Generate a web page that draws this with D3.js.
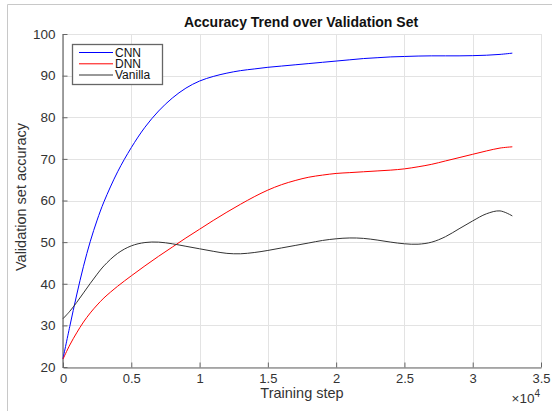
<!DOCTYPE html>
<html><head><meta charset="utf-8">
<script src="https://cdn.jsdelivr.net/npm/d3@7"></script>
<style>html,body{margin:0;padding:0;background:#fff;}svg{display:block;font-family:"Liberation Sans",Arial,Helvetica,sans-serif;}</style>
</head><body>
<svg id="c" width="552" height="411"></svg>
<script>
const steps = [0,500,1000,1500,2000,2500,3000,4000,5000,6000,7000,8000,9000,10000,11000,12000,13000,14000,15000,16000,17000,18000,19000,20000,21000,22000,23000,24000,25000,26000,27000,28000,29000,30000,31000,32000,32900];
const cnn = [22,29.8,37.3,44.2,50.2,55.3,59.7,66.9,72.7,77.6,81.5,84.6,87,88.7,89.8,90.6,91.2,91.6,92,92.3,92.6,92.9,93.2,93.5,93.8,94.1,94.3,94.5,94.6,94.7,94.75,94.75,94.75,94.8,94.9,95.1,95.4];
const dnn = [21.9,25.3,28.2,30.8,33.0,34.9,36.6,39.4,41.9,44.3,46.6,48.8,51.0,53.1,55.2,57.2,59.1,60.9,62.5,63.8,64.8,65.6,66.1,66.5,66.7,66.9,67.1,67.3,67.6,68.1,68.7,69.5,70.3,71.1,71.9,72.6,72.9];
const vanilla = [31.6,33.4,35.5,37.8,40.1,42.3,44.3,47.3,49.1,49.9,50.0,49.6,49.0,48.4,47.8,47.3,47.2,47.5,48.0,48.6,49.2,49.8,50.4,50.8,51.0,50.9,50.5,50.0,49.6,49.5,50.0,51.3,53.2,55.1,56.8,57.5,56.3];
const seriesNames = ["CNN","DNN","Vanilla"];
const seriesColors = ["#0000ff","#ff0000","#333333"];
const xTicks = [0,5000,10000,15000,20000,25000,30000,35000];
const xTickLabels = ["0","0.5","1","1.5","2","2.5","3","3.5"];
const yTicks = [20,30,40,50,60,70,80,90,100];
const title = "Accuracy Trend over Validation Set";
const xLabel = "Training step";
const yLabel = "Validation set accuracy";

const svg = d3.select("#c");
const m = {l:63, r:541, t:34, b:367};
const x = d3.scaleLinear().domain([0,35000]).range([m.l,m.r]);
const y = d3.scaleLinear().domain([20,100]).range([m.b,m.t]);

// outer frame
svg.append("path").attr("d","M7.5,411 V4.5 H552").attr("fill","none").attr("stroke","#c8c8c8").attr("stroke-width",1);

// grid
const g = svg.append("g");
g.selectAll(".gx").data(xTicks).join("line")
  .attr("x1",d=>Math.round(x(d))+0.5).attr("x2",d=>Math.round(x(d))+0.5)
  .attr("y1",m.t).attr("y2",m.b).attr("stroke","#e3e3e3").attr("stroke-width",1);
g.selectAll(".gy").data(yTicks).join("line")
  .attr("y1",d=>Math.round(y(d))+0.5).attr("y2",d=>Math.round(y(d))+0.5)
  .attr("x1",m.l).attr("x2",m.r).attr("stroke","#e3e3e3").attr("stroke-width",1);

// axes
const xAxis = d3.axisBottom(x).tickValues(xTicks).tickFormat((d,i)=>xTickLabels[i]).tickSizeInner(-5).tickSizeOuter(0).tickPadding(4);
const yAxis = d3.axisLeft(y).tickValues(yTicks).tickSizeInner(-5).tickSizeOuter(0).tickPadding(7);
const gx = svg.append("g").attr("transform",`translate(0,${m.b+0.5})`).call(xAxis);
const gy = svg.append("g").attr("transform",`translate(${m.l-0.5},0)`).call(yAxis);
[gx,gy].forEach(a=>{
  a.select(".domain").attr("stroke","#666").attr("stroke-width",1.2);
  a.selectAll(".tick line").attr("stroke","#666");
  a.selectAll(".tick text").attr("fill","#333").style("font-size","13.5px").style("font-family","'Liberation Sans',Arial,sans-serif");
});
gx.selectAll(".tick text").style("font-size","13px").attr("y",null).attr("dy",null).attr("transform","translate(0,15)");

// lines
const data = [cnn,dnn,vanilla];
const line = d3.line().x((d,i)=>x(steps[i])).y(d=>y(d)).curve(d3.curveCatmullRom.alpha(0.5));
svg.append("g").selectAll("path").data(data).join("path")
  .attr("d",d=>line(d)).attr("fill","none")
  .attr("stroke",(d,i)=>seriesColors[i]).attr("stroke-width",1);

// title and labels
svg.append("text").attr("x",301).attr("y",27).attr("text-anchor","middle")
  .style("font-weight","bold").style("font-size","14px").attr("fill","#111").text(title);
svg.append("text").attr("x",302).attr("y",397.5).attr("text-anchor","middle")
  .style("font-size","14.5px").attr("fill","#333").text(xLabel);
svg.append("text").attr("transform","translate(26,197) rotate(-90)").attr("text-anchor","middle")
  .style("font-size","14.5px").attr("fill","#333").text(yLabel);
const e = svg.append("text").attr("x",540).attr("y",403).attr("text-anchor","end").style("font-size","13.5px").attr("fill","#333");
e.append("tspan").text("\u00d710");
e.append("tspan").attr("dy",-6).style("font-size","10px").text("4");

// legend
const lg = svg.append("g");
lg.append("rect").attr("x",72.5).attr("y",44.5).attr("width",90).attr("height",40)
  .attr("fill","#fff").attr("stroke","#666").attr("stroke-width",1.3);
const rowsY = [52.5,63.8,75];
seriesNames.forEach((n,i)=>{
  lg.append("line").attr("x1",79).attr("x2",113).attr("y1",rowsY[i]).attr("y2",rowsY[i]).attr("stroke",seriesColors[i]).attr("stroke-width",1);
  lg.append("text").attr("x",115).attr("y",rowsY[i]+4.3).style("font-size","12px").attr("fill","#111").text(n);
});
</script>
</body></html>
